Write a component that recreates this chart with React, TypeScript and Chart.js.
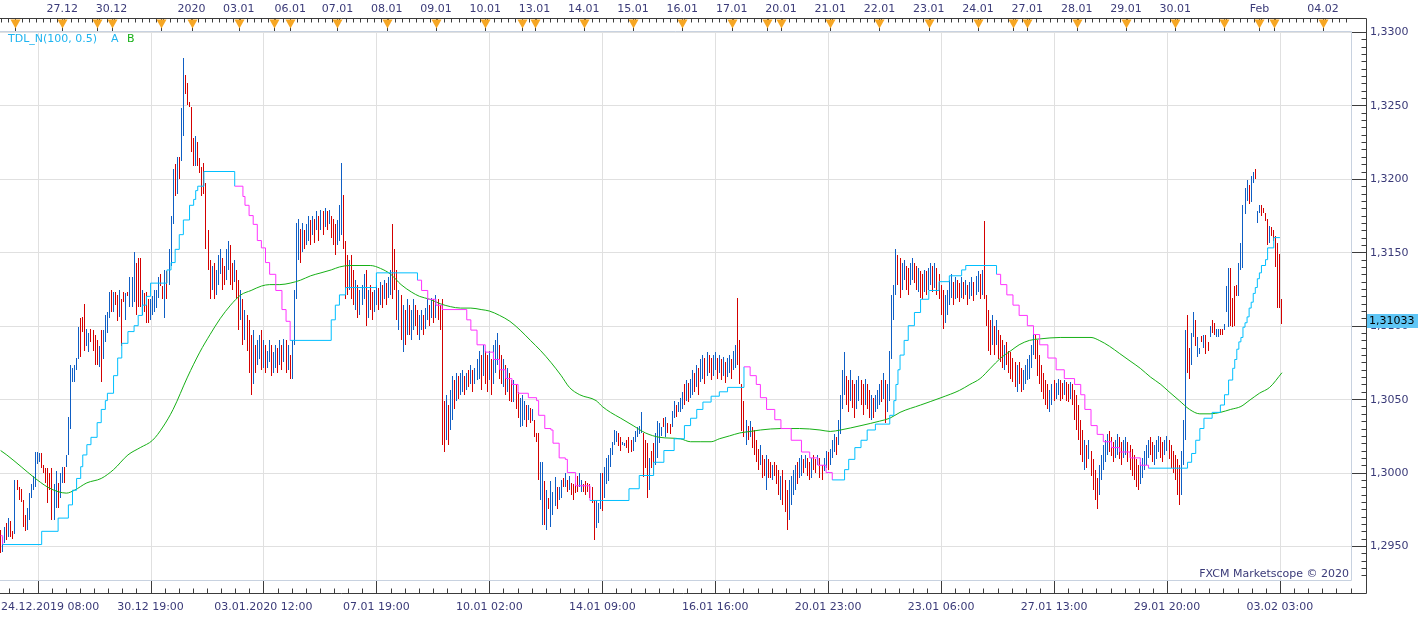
import React, { useEffect, useRef } from 'react';
import { Chart, registerables, BarController, BarElement } from 'chart.js';

Chart.register(...registerables);

// Hourly bars, one entry per bar (index 0 = 24.12.2019 08:00 area)
const highs = [
  1.2961, 1.2956, 1.2963, 1.2966, 1.2969, 1.2967, 1.2960, 1.2995, 1.2995, 1.2990,
  1.2989, 1.2981, 1.2971, 1.2976, 1.2986, 1.2992, 1.2998, 1.3014, 1.3014, 1.3013,
  1.3013, 1.3005, 1.3003, 1.3003, 1.3000, 1.3003, 1.2992, 1.3001, 1.2993, 1.3000,
  1.3004, 1.3004, 1.3012, 1.3038, 1.3073, 1.3071, 1.3073, 1.3078, 1.3099, 1.3105,
  1.3106, 1.3115, 1.3098, 1.3095, 1.3098, 1.3097, 1.3094, 1.3090, 1.3086, 1.3097,
  1.3097, 1.3107, 1.3109, 1.3123, 1.3124, 1.3123, 1.3123, 1.3121, 1.3124, 1.3118,
  1.3123, 1.3122, 1.3123, 1.3133, 1.3133, 1.3150, 1.3143, 1.3146, 1.3146, 1.3124,
  1.3122, 1.3123, 1.3118, 1.3118, 1.3120, 1.3124, 1.3124, 1.3133, 1.3135, 1.3127,
  1.3138, 1.3137, 1.3152, 1.3175, 1.3207, 1.3210, 1.3215, 1.3215, 1.3248, 1.3282,
  1.3271, 1.3265, 1.3252, 1.3249, 1.3228, 1.3229, 1.3225, 1.3214, 1.3208, 1.3211,
  1.3197, 1.3165, 1.3145, 1.3141, 1.3143, 1.3138, 1.3148, 1.3152, 1.3146, 1.3141,
  1.3152, 1.3158, 1.3155, 1.3143, 1.3145, 1.3138, 1.3131, 1.3124, 1.3118, 1.3111,
  1.3107, 1.3104, 1.3094, 1.3097, 1.3087, 1.3090, 1.3094, 1.3097, 1.3090, 1.3087,
  1.3083, 1.3090, 1.3087, 1.3082, 1.3087, 1.3085, 1.3090, 1.3087, 1.3091, 1.3090,
  1.3087, 1.3080, 1.3090, 1.3124, 1.3170, 1.3173, 1.3166, 1.3170, 1.3165, 1.3169,
  1.3175, 1.3172, 1.3175, 1.3173, 1.3178, 1.3175, 1.3179, 1.3178, 1.3180, 1.3178,
  1.3179, 1.3175, 1.3173, 1.3169, 1.3172, 1.3182, 1.3211, 1.3189, 1.3158, 1.3148,
  1.3145, 1.3148, 1.3138, 1.3131, 1.3128, 1.3124, 1.3128, 1.3135, 1.3138, 1.3124,
  1.3128, 1.3123, 1.3124, 1.3128, 1.3126, 1.3130, 1.3128, 1.3131, 1.3129, 1.3133,
  1.3138, 1.3169, 1.3152, 1.3138, 1.3124, 1.3121, 1.3114, 1.3111, 1.3118, 1.3114,
  1.3111, 1.3118, 1.3114, 1.3111, 1.3107, 1.3111, 1.3107, 1.3112, 1.3118, 1.3114,
  1.3119, 1.3118, 1.3121, 1.3118, 1.3114, 1.3118, 1.3049, 1.3053, 1.3046, 1.3056,
  1.3066, 1.3063, 1.3068, 1.3066, 1.3068, 1.3070, 1.3066, 1.3068, 1.3070, 1.3073,
  1.3070, 1.3071, 1.3077, 1.3083, 1.3080, 1.3087, 1.3083, 1.3080, 1.3083, 1.3077,
  1.3087, 1.3090, 1.3095, 1.3087, 1.3080, 1.3077, 1.3073, 1.3071, 1.3068, 1.3063,
  1.3063, 1.3060, 1.3055, 1.3051, 1.3053, 1.3049, 1.3046, 1.3046, 1.3044, 1.3043,
  1.3036, 1.3027, 1.3027, 1.3007, 1.3007, 1.2994, 1.2988, 1.2983, 1.2994, 1.2987,
  1.2997, 1.2990, 1.2990, 1.2995, 1.2996, 1.3000, 1.2995, 1.2998, 1.2993, 1.2992,
  1.2993, 1.2998, 1.3000, 1.2995, 1.2992, 1.2994, 1.2993, 1.2992, 1.2990, 1.2981,
  1.2981, 1.2979, 1.3000, 1.3000, 1.3004, 1.3010, 1.3012, 1.3017, 1.3021, 1.3029,
  1.3028, 1.3027, 1.3024, 1.3021, 1.3020, 1.3022, 1.3024, 1.3022, 1.3024, 1.3028,
  1.3031, 1.3032, 1.3041, 1.3027, 1.3022, 1.3020, 1.3010, 1.3015, 1.3020, 1.3027,
  1.3035, 1.3034, 1.3031, 1.3037, 1.3038, 1.3034, 1.3033, 1.3042, 1.3049, 1.3046,
  1.3048, 1.3051, 1.3055, 1.3060, 1.3063, 1.3061, 1.3064, 1.3070, 1.3068, 1.3073,
  1.3071, 1.3077, 1.3080, 1.3078, 1.3082, 1.3080, 1.3078, 1.3080, 1.3082, 1.3078,
  1.3080, 1.3077, 1.3079, 1.3075, 1.3078, 1.3080, 1.3077, 1.3083, 1.3087, 1.3119,
  1.3090, 1.3060, 1.3049, 1.3036, 1.3032, 1.3035, 1.3031, 1.3029, 1.3022, 1.3016,
  1.3019, 1.3012, 1.3009, 1.3012, 1.3009, 1.3007, 1.3005, 1.3007, 1.3005, 1.3002,
  1.2998, 1.3002, 1.2995, 1.2988, 1.2995, 1.2998, 1.3002, 1.3005, 1.3007, 1.3010,
  1.3012, 1.3009, 1.3012, 1.3010, 1.3007, 1.3010, 1.3012, 1.3009, 1.3012, 1.3010,
  1.3005, 1.3010, 1.3015, 1.3014, 1.3016, 1.3022, 1.3026, 1.3024, 1.3036, 1.3053,
  1.3070, 1.3082, 1.3066, 1.3063, 1.3070, 1.3063, 1.3060, 1.3063, 1.3066, 1.3063,
  1.3060, 1.3064, 1.3060, 1.3056, 1.3053, 1.3051, 1.3053, 1.3056, 1.3060, 1.3063,
  1.3068, 1.3063, 1.3060, 1.3083, 1.3121, 1.3128, 1.3152, 1.3148, 1.3146, 1.3143,
  1.3145, 1.3141, 1.3139, 1.3143, 1.3146, 1.3143, 1.3141, 1.3139, 1.3137, 1.3135,
  1.3138, 1.3137, 1.3139, 1.3143, 1.3141, 1.3143, 1.3139, 1.3135, 1.3128, 1.3124,
  1.3121, 1.3124, 1.3131, 1.3135, 1.3130, 1.3133, 1.3131, 1.3129, 1.3133, 1.3130,
  1.3131, 1.3128, 1.3130, 1.3133, 1.3130, 1.3134, 1.3137, 1.3135, 1.3138, 1.3171,
  1.3121, 1.3111, 1.3104, 1.3107, 1.3100, 1.3104, 1.3097, 1.3094, 1.3090, 1.3087,
  1.3089, 1.3083, 1.3082, 1.3078, 1.3075, 1.3073, 1.3075, 1.3071, 1.3070, 1.3073,
  1.3077, 1.3080, 1.3087, 1.3097, 1.3094, 1.3090, 1.3080, 1.3073, 1.3068, 1.3063,
  1.3060, 1.3056, 1.3060, 1.3063, 1.3061, 1.3064, 1.3063, 1.3061, 1.3063, 1.3062,
  1.3060, 1.3062, 1.3060, 1.3056, 1.3053, 1.3046, 1.3036, 1.3029, 1.3022, 1.3019,
  1.3022, 1.3015, 1.3009, 1.3002, 1.2996, 1.3005, 1.3012, 1.3019, 1.3022, 1.3026,
  1.3028, 1.3024, 1.3021, 1.3022, 1.3026, 1.3024, 1.3021, 1.3022, 1.3024, 1.3021,
  1.3019, 1.3016, 1.3012, 1.3009, 1.3005, 1.3007, 1.3010, 1.3015, 1.3019, 1.3022,
  1.3024, 1.3021, 1.3019, 1.3022, 1.3025, 1.3024, 1.3021, 1.3022, 1.3025, 1.3022,
  1.3019, 1.3015, 1.3012, 1.3009, 1.3005, 1.3015, 1.3036, 1.3097, 1.3107, 1.3085,
  1.3095, 1.3109, 1.3104, 1.3092, 1.3085, 1.3093, 1.3094, 1.3094, 1.3089, 1.3100,
  1.3104, 1.3102, 1.3098, 1.3098, 1.3098, 1.3098, 1.3101, 1.3127, 1.3139, 1.3139,
  1.3119, 1.3127, 1.3128, 1.3143, 1.3156, 1.3182, 1.3194, 1.3199, 1.3196, 1.3202,
  1.3205, 1.3207, 1.3178, 1.3182, 1.3182, 1.3180, 1.3177, 1.3173, 1.3168, 1.3167,
  1.3165, 1.3161, 1.3156, 1.3149, 1.3118,
];

const lows = [
  1.2945, 1.2946, 1.2952, 1.2954, 1.2956, 1.2956, 1.2955, 1.2958, 1.2988, 1.2981,
  1.2980, 1.2963, 1.2960, 1.2961, 1.2968, 1.2983, 1.2988, 1.2990, 1.3006, 1.3007,
  1.3003, 1.3000, 1.2993, 1.2979, 1.2988, 1.2968, 1.2968, 1.2976, 1.2976, 1.2983,
  1.2993, 1.2993, 1.3004, 1.3012, 1.3030, 1.3062, 1.3062, 1.3070, 1.3077, 1.3079,
  1.3096, 1.3083, 1.3086, 1.3082, 1.3089, 1.3083, 1.3073, 1.3073, 1.3072, 1.3062,
  1.3077, 1.3089, 1.3095, 1.3105, 1.3109, 1.3109, 1.3114, 1.3103, 1.3106, 1.3086,
  1.3116, 1.3104, 1.3120, 1.3113, 1.3113, 1.3116, 1.3107, 1.3113, 1.3113, 1.3107,
  1.3109, 1.3102, 1.3102, 1.3104, 1.3107, 1.3109, 1.3112, 1.3119, 1.3127, 1.3118,
  1.3105, 1.3118, 1.3128, 1.3141, 1.3169, 1.3188, 1.3190, 1.3200, 1.3212, 1.3229,
  1.3258, 1.3250, 1.3249, 1.3218, 1.3209, 1.3209, 1.3209, 1.3204, 1.3188, 1.3190,
  1.3152, 1.3138, 1.3118, 1.3124, 1.3118, 1.3121, 1.3128, 1.3135, 1.3124, 1.3128,
  1.3131, 1.3138, 1.3128, 1.3124, 1.3130, 1.3118, 1.3097, 1.3104, 1.3087, 1.3090,
  1.3083, 1.3068, 1.3053, 1.3060, 1.3068, 1.3073, 1.3077, 1.3070, 1.3071, 1.3068,
  1.3071, 1.3075, 1.3066, 1.3068, 1.3071, 1.3068, 1.3073, 1.3070, 1.3075, 1.3068,
  1.3070, 1.3064, 1.3064, 1.3087, 1.3118, 1.3145, 1.3143, 1.3150, 1.3152, 1.3155,
  1.3158, 1.3155, 1.3162, 1.3156, 1.3165, 1.3158, 1.3165, 1.3162, 1.3167, 1.3165,
  1.3169, 1.3160, 1.3155, 1.3148, 1.3155, 1.3158, 1.3162, 1.3152, 1.3118, 1.3121,
  1.3124, 1.3118, 1.3114, 1.3111, 1.3105, 1.3107, 1.3114, 1.3118, 1.3100, 1.3105,
  1.3111, 1.3104, 1.3109, 1.3114, 1.3111, 1.3114, 1.3112, 1.3118, 1.3114, 1.3119,
  1.3121, 1.3118, 1.3124, 1.3104, 1.3097, 1.3090, 1.3082, 1.3087, 1.3094, 1.3094,
  1.3090, 1.3097, 1.3100, 1.3094, 1.3090, 1.3097, 1.3094, 1.3098, 1.3104, 1.3100,
  1.3105, 1.3102, 1.3105, 1.3104, 1.3097, 1.3019, 1.3014, 1.3022, 1.3019, 1.3029,
  1.3036, 1.3043, 1.3049, 1.3050, 1.3053, 1.3055, 1.3053, 1.3056, 1.3058, 1.3060,
  1.3055, 1.3060, 1.3063, 1.3064, 1.3056, 1.3066, 1.3060, 1.3055, 1.3063, 1.3053,
  1.3060, 1.3068, 1.3073, 1.3064, 1.3060, 1.3058, 1.3053, 1.3055, 1.3049, 1.3048,
  1.3048, 1.3043, 1.3037, 1.3031, 1.3032, 1.3036, 1.3031, 1.3036, 1.3034, 1.3035,
  1.3024, 1.3021, 1.2995, 1.2981, 1.2964, 1.2964, 1.2961, 1.2975, 1.2963, 1.2971,
  1.2977, 1.2975, 1.2981, 1.2983, 1.2990, 1.2990, 1.2987, 1.2988, 1.2985, 1.2981,
  1.2986, 1.2987, 1.2990, 1.2987, 1.2987, 1.2985, 1.2987, 1.2983, 1.2979, 1.2954,
  1.2962, 1.2966, 1.2975, 1.2974, 1.2983, 1.2992, 1.2994, 1.3004, 1.3012, 1.3019,
  1.3021, 1.3018, 1.3015, 1.3019, 1.3018, 1.3017, 1.3013, 1.3014, 1.3015, 1.3021,
  1.3024, 1.3026, 1.3027, 1.2997, 1.3003, 1.2983, 1.2988, 1.3003, 1.2999, 1.3005,
  1.3010, 1.3020, 1.3025, 1.3031, 1.3024, 1.3027, 1.3026, 1.3031, 1.3037, 1.3038,
  1.3041, 1.3041, 1.3043, 1.3046, 1.3049, 1.3048, 1.3051, 1.3053, 1.3055, 1.3058,
  1.3053, 1.3062, 1.3064, 1.3060, 1.3066, 1.3068, 1.3063, 1.3066, 1.3070, 1.3064,
  1.3068, 1.3063, 1.3066, 1.3061, 1.3065, 1.3068, 1.3064, 1.3070, 1.3071, 1.3073,
  1.3060, 1.3028, 1.3024, 1.3019, 1.3022, 1.3024, 1.3017, 1.3012, 1.3007, 1.3002,
  1.3005, 1.2996, 1.2998, 1.2988, 1.2996, 1.2996, 1.2995, 1.2998, 1.2992, 1.2985,
  1.2981, 1.2978, 1.2973, 1.2961, 1.2968, 1.2978, 1.2985, 1.2988, 1.2992, 1.2996,
  1.2998, 1.3000, 1.3003, 1.2998, 1.2995, 1.2996, 1.3002, 1.3000, 1.3005, 1.2996,
  1.2995, 1.3001, 1.3003, 1.3002, 1.3005, 1.3010, 1.3014, 1.3012, 1.3019, 1.3026,
  1.3043, 1.3053, 1.3046, 1.3041, 1.3049, 1.3044, 1.3037, 1.3043, 1.3049, 1.3046,
  1.3039, 1.3046, 1.3043, 1.3037, 1.3036, 1.3037, 1.3041, 1.3043, 1.3046, 1.3048,
  1.3050, 1.3034, 1.3041, 1.3049, 1.3077, 1.3104, 1.3121, 1.3128, 1.3119, 1.3124,
  1.3131, 1.3124, 1.3121, 1.3128, 1.3131, 1.3129, 1.3124, 1.3123, 1.3119, 1.3118,
  1.3123, 1.3121, 1.3124, 1.3128, 1.3123, 1.3126, 1.3121, 1.3118, 1.3107, 1.3098,
  1.3102, 1.3107, 1.3114, 1.3119, 1.3114, 1.3118, 1.3119, 1.3116, 1.3119, 1.3118,
  1.3121, 1.3114, 1.3118, 1.3120, 1.3117, 1.3121, 1.3123, 1.3118, 1.3121, 1.3118,
  1.3100, 1.3083, 1.3080, 1.3087, 1.3080, 1.3087, 1.3077, 1.3075, 1.3071, 1.3070,
  1.3073, 1.3068, 1.3064, 1.3062, 1.3058, 1.3055, 1.3060, 1.3055, 1.3056, 1.3060,
  1.3063, 1.3064, 1.3071, 1.3080, 1.3077, 1.3066, 1.3060, 1.3055, 1.3050, 1.3046,
  1.3043, 1.3041, 1.3046, 1.3049, 1.3050, 1.3053, 1.3049, 1.3050, 1.3053, 1.3049,
  1.3048, 1.3050, 1.3046, 1.3036, 1.3029, 1.3022, 1.3012, 1.3007, 1.3002, 1.3003,
  1.3009, 1.2998, 1.2988, 1.2981, 1.2975, 1.2985, 1.2995, 1.3002, 1.3007, 1.3012,
  1.3014, 1.3011, 1.3007, 1.3010, 1.3012, 1.3009, 1.3005, 1.3010, 1.3012, 1.3007,
  1.3002, 1.2998, 1.2995, 1.2990, 1.2988, 1.2992, 1.2996, 1.3002, 1.3005, 1.3010,
  1.3012, 1.3007, 1.3005, 1.3009, 1.3014, 1.3010, 1.3007, 1.3012, 1.3015, 1.3009,
  1.3003, 1.3000, 1.2995, 1.2985, 1.2978, 1.2985, 1.3005, 1.3022, 1.3068, 1.3064,
  1.3073, 1.3092, 1.3086, 1.3079, 1.3081, 1.3089, 1.3085, 1.3081, 1.3083, 1.3092,
  1.3095, 1.3094, 1.3092, 1.3092, 1.3094, 1.3094, 1.3097, 1.3109, 1.3099, 1.3100,
  1.3099, 1.3100, 1.3120, 1.3120, 1.3138, 1.3139, 1.3176, 1.3185, 1.3183, 1.3184,
  1.3197, 1.3200, 1.3170, 1.3177, 1.3175, 1.3177, 1.3171, 1.3155, 1.3156, 1.3161,
  1.3158, 1.3140, 1.3112, 1.3112, 1.3101,
];

// u = close above open (blue), d = close below open (red)
const barDirection = [
  'duududdudd', 'ddduuuuuuu', 'dddddduudu', 'uduuuuuuud', 'dduuddddud',
  'uuuududdud', 'duduuudddu', 'ddduuuuudd', 'uduuududuu', 'dddddudddd',
  'ddduduuudd', 'uudduddudu', 'ddduduudud', 'uuduududud', 'uduuuududu',
  'ududududud', 'uddduuuddd', 'udduduuudu', 'dduudududu', 'udddududud',
  'uudduuduud', 'ududdddudu', 'ududuududu', 'duuududdud', 'uuuddududd',
  'udduuududu', 'ddduududuu', 'uduudududd', 'dduudddddd', 'uuuduuuuuu',
  'udduuddduu', 'uuuddduddu', 'uuududduud', 'uuududuudu', 'duududduud',
  'ududuuduud', 'dddududddd', 'uddudduddd', 'uddduuuudu', 'ududduddud',
  'duuduuuduu', 'uuddudduud', 'dudduduuud', 'uduuuuuddu', 'udduuddudd',
  'uduududddd', 'uuuududdud', 'uduuduudud', 'dddududddu', 'dddddudduu',
  'uuuudddddd', 'duuduuddud', 'duddddddud', 'udddduuuuu', 'ddduudduud',
  'ddddduuuuu', 'dduuudduud', 'ddddduuudd', 'uuduududdu', 'dduudduuud',
  'ddduuuuudu', 'uduuddddud', 'ddddd',
].join('');

// TDL_N(100, 0.5) line "A": step points (bar index, level)
const tdlBars = [
  0, 1, 20, 28, 33, 35, 37, 39, 40, 42, 44, 47, 49, 51, 52, 55, 57, 59, 62, 65,
  67, 69, 71, 73, 81, 83, 85, 87, 89, 92, 94, 95, 96, 99, 114, 118, 119, 121, 123, 125,
  127, 129, 131, 134, 137, 139, 141, 161, 163, 165, 168, 183, 203, 205, 208, 212, 215, 227, 229, 232,
  236, 240, 243, 246, 249, 252, 257, 261, 262, 265, 268, 269, 272, 275, 276, 280, 287, 306, 311, 318,
  323, 328, 333, 336, 339, 342, 346, 350, 354, 362, 365, 368, 370, 373, 377, 380, 385, 390, 394, 398,
  402, 405, 411, 413, 416, 419, 422, 426, 433, 435, 436, 437, 438, 440, 442, 445, 448, 452, 457, 462,
  468, 470, 485, 487, 490, 493, 496, 500, 503, 506, 510, 514, 518, 523, 526, 528, 531, 534, 537, 541,
  545, 550, 555, 559, 578, 580, 582, 584, 586, 590, 594, 596, 598, 600, 601, 602, 603, 604, 605, 606,
  607, 608, 609, 610, 611, 612, 613, 614, 616, 617, 620, 623,
];
const tdlLevels = [
  1.2957, 1.2951, 1.2960, 1.2969, 1.2978, 1.2988, 1.2996, 1.3004, 1.3012, 1.3019, 1.3024, 1.3034, 1.3043, 1.3049, 1.3054, 1.3066, 1.3078, 1.3088, 1.3096, 1.3100,
  1.3107, 1.3114, 1.3120, 1.3129, 1.3138, 1.3143, 1.3152, 1.3162, 1.3172, 1.3182, 1.3186, 1.3192, 1.3195, 1.3205, 1.3195, 1.3188, 1.3182, 1.3175, 1.3169, 1.3158,
  1.3153, 1.3143, 1.3135, 1.3124, 1.3111, 1.3103, 1.3090, 1.3104, 1.3114, 1.3121, 1.3126, 1.3136, 1.3131, 1.3124, 1.3118, 1.3114, 1.3111, 1.3104, 1.3097, 1.3087,
  1.3082, 1.3077, 1.3070, 1.3064, 1.3060, 1.3054, 1.3051, 1.3049, 1.3039, 1.3030, 1.3029, 1.3020, 1.3010, 1.3009, 1.3000, 1.2991, 1.2981, 1.2989, 1.2998, 1.3007,
  1.3015, 1.3023, 1.3032, 1.3037, 1.3043, 1.3048, 1.3052, 1.3055, 1.3058, 1.3072, 1.3066, 1.3060, 1.3051, 1.3043, 1.3036, 1.3030, 1.3022, 1.3014, 1.3010, 1.3005,
  1.3000, 1.2995, 1.3002, 1.3009, 1.3017, 1.3022, 1.3029, 1.3033, 1.3039, 1.3049, 1.3060, 1.3070, 1.3080, 1.3090, 1.3100, 1.3109, 1.3118, 1.3124, 1.3130, 1.3134,
  1.3138, 1.3141, 1.3135, 1.3128, 1.3121, 1.3114, 1.3107, 1.3100, 1.3094, 1.3087, 1.3078, 1.3070, 1.3064, 1.3060, 1.3053, 1.3043, 1.3032, 1.3026, 1.3021, 1.3017,
  1.3014, 1.3010, 1.3005, 1.3003, 1.3007, 1.3013, 1.3022, 1.3030, 1.3037, 1.3041, 1.3046, 1.3053, 1.3063, 1.3071, 1.3077, 1.3084, 1.3089, 1.3092, 1.3099, 1.3102,
  1.3106, 1.3112, 1.3116, 1.3122, 1.3126, 1.3132, 1.3136, 1.3141, 1.3145, 1.3153, 1.3160, 1.3160,
];
// bar ranges where the TDL line acts as resistance (drawn magenta)
const tdlFallingRanges: [number, number][] = [[0, 1], [114, 141], [203, 287], [362, 405], [485, 559]];

// Moving-average line "B": (bar index, level)
const maBars = [
  0, 3, 10, 16, 23, 28, 32, 36, 42, 49, 55, 62, 68, 74, 79, 84, 91, 97, 102, 107,
  112, 117, 122, 127, 131, 136, 141, 146, 151, 156, 161, 165, 170, 175, 180, 185, 190, 195, 200, 204,
  209, 214, 219, 224, 229, 234, 238, 243, 248, 253, 258, 263, 268, 273, 277, 282, 290, 293, 297, 302,
  308, 314, 321, 331, 336, 341, 346, 350, 355, 360, 365, 370, 380, 389, 399, 404, 409, 419, 428, 433,
  438, 448, 458, 467, 472, 477, 482, 487, 492, 496, 501, 506, 516, 531, 535, 540, 545, 550, 555, 560,
  565, 569, 574, 579, 584, 589, 594, 599, 604, 608, 613, 618, 624,
];
const maLevels = [
  1.3015, 1.3012, 1.3004, 1.2997, 1.2990, 1.2987, 1.2986, 1.2988, 1.2993, 1.2996, 1.3002, 1.3012, 1.3017, 1.3022, 1.3031, 1.3043, 1.3065, 1.3082, 1.3094, 1.3105,
  1.3114, 1.3121, 1.3124, 1.3127, 1.3128, 1.3128, 1.3129, 1.3131, 1.3134, 1.3136, 1.3138, 1.3140, 1.3141, 1.3141, 1.3141, 1.3139, 1.3135, 1.3128, 1.3123, 1.3120,
  1.3118, 1.3115, 1.3113, 1.3112, 1.3112, 1.3111, 1.3110, 1.3107, 1.3103, 1.3097, 1.3090, 1.3083, 1.3075, 1.3066, 1.3058, 1.3053, 1.3049, 1.3045, 1.3041, 1.3037,
  1.3032, 1.3027, 1.3024, 1.3023, 1.3021, 1.3021, 1.3021, 1.3023, 1.3025, 1.3027, 1.3028, 1.3029, 1.3030, 1.3030, 1.3029, 1.3028, 1.3029, 1.3032, 1.3035, 1.3037,
  1.3041, 1.3046, 1.3051, 1.3056, 1.3060, 1.3064, 1.3071, 1.3078, 1.3083, 1.3087, 1.3090, 1.3091, 1.3092, 1.3092, 1.3090, 1.3086, 1.3081, 1.3076, 1.3071, 1.3065,
  1.3060, 1.3055, 1.3049, 1.3043, 1.3040, 1.3040, 1.3041, 1.3043, 1.3045, 1.3049, 1.3054, 1.3058, 1.3068,
];

// Bottom time axis: labelled bars (every 55 bars)
const timeBars = [18, 73, 128, 183, 238, 293, 348, 403, 458, 513, 568, 623];
const timeLabels = [
  '24.12.2019 08:00', '30.12 19:00', '03.01.2020 12:00', '07.01 19:00', '10.01 02:00', '14.01 09:00',
  '16.01 16:00', '20.01 23:00', '23.01 06:00', '27.01 13:00', '29.01 20:00', '03.02 03:00',
];

// Top date axis: session starts
const dayBars = [
  7, 30, 47, 54, 78, 93, 116, 133, 141, 164, 188, 212, 236, 254, 260, 284, 308,
  332, 356, 373, 380, 404, 428, 452, 476, 493, 500, 524, 548, 572, 596, 613, 620, 644,
];
const dayLabels = [
  '', '27.12', '', '30.12', '', '2020', '03.01', '', '06.01', '07.01', '08.01', '09.01', '10.01', '', '13.01', '14.01', '15.01',
  '16.01', '17.01', '', '20.01', '21.01', '22.01', '23.01', '24.01', '', '27.01', '28.01', '29.01', '30.01', '', 'Feb', '', '04.02',
];

const priceTicks = [1.295, 1.3, 1.305, 1.31, 1.315, 1.32, 1.325, 1.33];
const lastPrice = 1.31033;

const X_MIN = -0.3;
const X_MAX = 658.1;
const Y_MIN = 1.292617;
const Y_MAX = 1.330068;

const BLUE = '#0f5ec4';
const RED = '#d40000';
const CYAN = '#00bfff';
const MAGENTA = '#ff33ff';
const GREEN = '#16b016';
const TEXT = '#3a3a78';
const AXIS = '#3c3c3c';
const GRID = '#e0e0e0';
const FONT = '11px "DejaVu Sans", Verdana, sans-serif';

// Bar element drawn as a pixel-snapped 1px high-low stroke
class HighLowBar extends (BarElement as any) {
  static id = 'highLowBar';
  static defaults = { ...(BarElement as any).defaults };
  static defaultRoutes = (BarElement as any).defaultRoutes;
  draw(ctx: CanvasRenderingContext2D) {
    const { x, y, base } = (this as any).getProps(['x', 'y', 'base']);
    const top = Math.round(Math.min(y, base));
    const bottom = Math.round(Math.max(y, base));
    ctx.save();
    ctx.fillStyle = (this as any).options.backgroundColor;
    ctx.fillRect(Math.round(x - 0.5), top, 1, Math.max(1, bottom - top));
    ctx.restore();
  }
}

class HighLowController extends (BarController as any) {
  static id = 'highLow';
  static defaults = { ...(BarController as any).defaults, dataElementType: 'highLowBar' };
  static overrides = (BarController as any).overrides;
}

Chart.register(HighLowBar as any, HighLowController as any);

const isFalling = (x: number) => tdlFallingRanges.some(([a, b]) => x >= a && x < b);
const fmtPrice = (v: number, d = 4) => v.toFixed(d).replace('.', ',');

const marketscopePlugin = {
  id: 'marketscopeFrame',
  beforeDraw(chart: any) {
    const { ctx, width, height } = chart;
    ctx.save();
    ctx.fillStyle = '#ffffff';
    ctx.fillRect(0, 0, width, height);
    ctx.restore();
  },
  beforeDatasetsDraw(chart: any) {
    const { ctx, chartArea: a, scales } = chart;
    const xs = scales.x;
    const ys = scales.y;
    ctx.save();
    ctx.strokeStyle = GRID;
    ctx.lineWidth = 1;
    ctx.beginPath();
    for (const b of timeBars) {
      const x = Math.round(xs.getPixelForValue(b)) + 0.5;
      ctx.moveTo(x, a.top);
      ctx.lineTo(x, a.bottom);
    }
    for (const p of priceTicks) {
      const y = Math.round(ys.getPixelForValue(p)) + 0.5;
      ctx.moveTo(a.left, y);
      ctx.lineTo(a.right, y);
    }
    ctx.stroke();
    ctx.restore();
  },
  afterDraw(chart: any) {
    const { ctx, chartArea: a, scales } = chart;
    const xs = scales.x;
    const ys = scales.y;
    const axisRight = 1366.5;
    const topLine = 18.5;
    const bottomLine = 593.5;
    ctx.save();

    // plot frame
    ctx.strokeStyle = '#c8d2e0';
    ctx.lineWidth = 1;
    ctx.beginPath();
    ctx.moveTo(a.left, a.top + 0.5);
    ctx.lineTo(a.right - 0.5, a.top + 0.5);
    ctx.lineTo(a.right - 0.5, a.bottom - 0.5);
    ctx.lineTo(a.left, a.bottom - 0.5);
    ctx.stroke();

    // axis lines
    ctx.strokeStyle = AXIS;
    ctx.beginPath();
    ctx.moveTo(0, topLine);
    ctx.lineTo(axisRight, topLine);
    ctx.lineTo(axisRight, bottomLine);
    ctx.lineTo(0, bottomLine);
    ctx.stroke();

    ctx.beginPath();
    // top minor ticks
    const step = 24 / 7;
    for (let v = dayBars[0] - 2 * step; v <= X_MAX; v += step) {
      const x = Math.round(xs.getPixelForValue(v)) + 0.5;
      if (x < 0 || x > a.right) continue;
      ctx.moveTo(x, topLine);
      ctx.lineTo(x, topLine + 4);
    }
    // top major ticks
    for (const b of dayBars) {
      const x = Math.round(xs.getPixelForValue(b)) + 0.5;
      ctx.moveTo(x, topLine);
      ctx.lineTo(x, a.top);
    }
    // bottom ticks
    for (let v = timeBars[0] - 3 * (55 / 8); v <= X_MAX; v += 55 / 8) {
      const x = Math.round(xs.getPixelForValue(v)) + 0.5;
      if (x < 0 || x > a.right) continue;
      ctx.moveTo(x, bottomLine);
      ctx.lineTo(x, bottomLine - 5);
    }
    for (const b of timeBars) {
      const x = Math.round(xs.getPixelForValue(b)) + 0.5;
      ctx.moveTo(x, bottomLine);
      ctx.lineTo(x, a.bottom);
    }
    // right ticks
    for (let k = Math.ceil(Y_MIN / 0.0005); k * 0.0005 <= Y_MAX; k++) {
      const y = Math.round(ys.getPixelForValue(k * 0.0005)) + 0.5;
      ctx.moveTo(axisRight, y);
      ctx.lineTo(axisRight - 5, y);
    }
    for (const p of priceTicks) {
      const y = Math.round(ys.getPixelForValue(p)) + 0.5;
      ctx.moveTo(axisRight, y);
      ctx.lineTo(a.right, y);
    }
    ctx.stroke();

    // session markers
    ctx.fillStyle = '#f6a623';
    for (const b of dayBars) {
      const x = Math.round(xs.getPixelForValue(b)) + 0.5;
      ctx.beginPath();
      ctx.moveTo(x - 5, topLine + 1);
      ctx.lineTo(x + 5, topLine + 1);
      ctx.lineTo(x, topLine + 10);
      ctx.closePath();
      ctx.fill();
    }

    // labels
    ctx.font = FONT;
    ctx.fillStyle = TEXT;
    ctx.textBaseline = 'middle';
    ctx.textAlign = 'center';
    dayBars.forEach((b, i) => {
      if (!dayLabels[i]) return;
      ctx.fillText(dayLabels[i], xs.getPixelForValue(b), 9);
    });
    timeBars.forEach((b, i) => {
      const w = ctx.measureText(timeLabels[i]).width;
      let cx = xs.getPixelForValue(b);
      if (cx - w / 2 < 1) cx = 1 + w / 2;
      ctx.fillText(timeLabels[i], cx, 607);
    });
    ctx.textAlign = 'left';
    for (const p of priceTicks) {
      ctx.fillText(fmtPrice(p), 1370, ys.getPixelForValue(p) + 0.5);
    }

    // last price marker
    const ly = ys.getPixelForValue(lastPrice);
    ctx.fillStyle = '#5fc6f6';
    ctx.fillRect(1367, Math.round(ly) - 7, 51, 14);
    ctx.fillStyle = '#000000';
    ctx.fillText(fmtPrice(lastPrice, 5), 1369, ly + 0.5);

    // indicator legend
    ctx.fillStyle = '#1eb4f0';
    ctx.fillText('TDL_N(100, 0.5)', 8, 39);
    ctx.fillText('A', 111, 39);
    ctx.fillStyle = GREEN;
    ctx.fillText('B', 127, 39);

    // copyright
    ctx.fillStyle = TEXT;
    ctx.textAlign = 'right';
    ctx.fillText('FXCM Marketscope \u00a9 2020', 1349, 574);
    ctx.restore();
  },
};

export default function App() {
  const canvasRef = useRef<HTMLCanvasElement>(null);

  useEffect(() => {
    const canvas = canvasRef.current;
    if (!canvas) return;
    const barData = highs.map((h, i) => ({ x: i, y: [lows[i], h] }));
    const barColors = highs.map((_, i) => (barDirection[i] === 'u' ? BLUE : RED));
    const maData = maBars.map((b, i) => ({ x: b, y: maLevels[i] }));
    const tdlData = tdlBars.map((b, i) => ({ x: b, y: tdlLevels[i] }));

    const chart = new Chart(canvas, {
      type: 'bar',
      data: {
        datasets: [
          {
            type: 'line',
            label: 'A',
            data: tdlData as any,
            stepped: true,
            borderWidth: 1,
            pointRadius: 0,
            fill: false,
            borderColor: CYAN,
            segment: {
              borderColor: (c: any) => (isFalling(c.p0.parsed.x) ? MAGENTA : CYAN),
            },
            order: 1,
          } as any,
          {
            type: 'line',
            label: 'B',
            data: maData as any,
            borderColor: GREEN,
            borderWidth: 1,
            pointRadius: 0,
            fill: false,
            cubicInterpolationMode: 'monotone',
            order: 2,
          } as any,
          {
            type: 'highLow',
            label: 'bars',
            data: barData as any,
            backgroundColor: barColors,
            borderWidth: 0,
            barThickness: 1,
            grouped: false,
            order: 3,
          } as any,
        ],
      },
      options: {
        responsive: false,
        devicePixelRatio: 1,
        animation: false,
        events: [],
        layout: { padding: { left: 0, top: 31, right: 71, bottom: 38 } },
        plugins: { legend: { display: false }, tooltip: { enabled: false }, title: { display: false } },
        scales: {
          x: { type: 'linear', display: false, min: X_MIN, max: X_MAX, offset: false },
          y: { type: 'linear', display: false, min: Y_MIN, max: Y_MAX },
        },
      } as any,
      plugins: [marketscopePlugin],
    });
    return () => chart.destroy();
  }, []);

  return (
    <div style={{ position: 'fixed', left: 0, top: 0, width: 1423, height: 619, background: '#ffffff' }}>
      <canvas ref={canvasRef} width={1423} height={619} style={{ display: 'block', width: 1423, height: 619 }} />
    </div>
  );
}
